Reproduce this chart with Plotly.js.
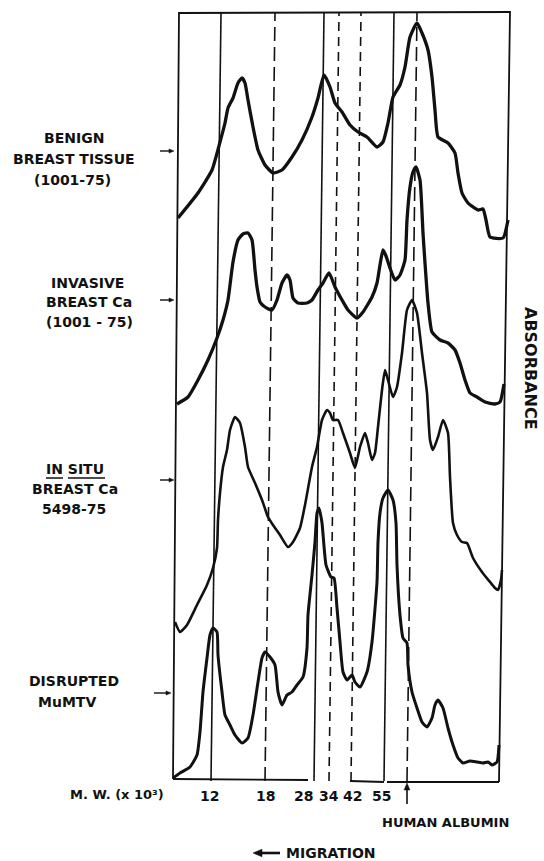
<!DOCTYPE html>
<html>
<head>
<meta charset="utf-8">
<script src="https://cdn.plot.ly/plotly-3.0.1.min.js"></script>
<style>html,body{margin:0;padding:0;background:#fff;}#chart{width:544px;height:861px;}</style>
</head>
<body>
<div id="chart"></div>
<script>
// ---- data (migration distance, absorbance display height) ----
const benignX = [5,25,39,47,52,55,60,65,69,72,75,80,85,92,100,109,119,129,139,145,151,157,162,169,177,185,194,204,210,215,220,227,232,237,244,249,255,259,262,265,275,282,285,289,295,305,310,313,317,330,335];
const benignY = [562,587,610,638,657,672,682,697,702,697,680,653,630,615,607,610,623,640,663,682,705,693,677,668,655,648,643,633,638,657,683,695,713,743,757,747,730,703,670,643,637,627,607,587,577,570,571,560,543,542,560];

const invasiveX = [4,15,25,35,44,50,55,60,65,70,75,79,82,84,87,92,99,104,109,114,117,120,125,134,139,145,150,156,162,169,175,184,190,199,204,207,210,213,217,222,227,232,234,237,240,243,247,250,252,255,259,267,275,282,287,292,297,304,312,322,327,331];
const invasiveY = [376,383,400,420,442,460,480,518,540,546,547,540,510,493,478,473,470,480,497,505,500,482,477,477,480,490,497,507,493,480,470,462,468,483,497,515,530,524,512,500,505,520,560,593,608,613,600,547,517,477,448,440,437,430,417,400,387,383,378,376,378,396];

const insituX = [2,7,14,24,34,40,44,45,47,50,54,57,62,67,72,75,82,89,95,100,107,115,120,127,132,139,144,149,154,157,160,165,170,177,182,187,192,195,199,202,205,209,212,215,220,224,229,234,239,244,249,254,257,260,265,270,275,277,280,284,289,294,300,309,317,322,325,328,329];
const insituY = [158,148,155,175,195,212,232,260,287,313,330,350,363,357,333,313,297,280,263,255,245,233,238,252,275,313,333,360,370,367,360,360,347,327,312,333,347,337,320,327,353,390,410,400,383,393,427,470,480,467,427,387,340,330,343,360,347,303,257,245,238,237,222,208,198,192,190,200,210];

const mumtvX = [0,7,17,24,27,30,34,37,40,44,45,49,52,57,62,69,75,80,85,89,92,97,102,105,109,114,119,124,130,134,135,139,142,144,146,149,153,158,161,164,167,170,174,179,182,187,194,199,204,205,207,210,215,220,223,224,227,230,234,235,239,244,249,254,259,262,265,270,275,280,285,290,297,304,310,315,319,324,326];
const mumtvY = [2,7,13,25,48,88,122,145,152,148,125,88,65,55,45,37,42,65,98,122,128,123,115,88,75,85,88,95,103,132,165,205,238,267,272,257,215,203,202,172,138,108,100,105,98,93,108,138,198,238,267,282,290,280,257,215,165,142,137,115,88,72,58,53,62,75,80,72,52,35,22,17,19,18,17,18,15,18,35];

const samples = [
  {name: 'BENIGN BREAST TISSUE (1001-75)', x: benignX, y: benignY},
  {name: 'INVASIVE BREAST Ca (1001-75)', x: invasiveX, y: invasiveY},
  {name: 'IN SITU BREAST Ca 5498-75', x: insituX, y: insituY},
  {name: 'DISRUPTED MuMTV', x: mumtvX, y: mumtvY}
];

const markerMW = ['12','18','28','34','42','55'];
const markerPos = [38, 92, 141, 156, 178, 211];
const albuminPos = 234;

// ---- styling ----
const INK = '#111';
const traceWidths = [3.3, 3.3, 2.6, 3.0];
const markerStyle = ['solid', '14px,6px', 'solid', '9px,6px', '9px,6px', 'solid'];
const labelNudge = [-2, 0, -11, 0, 1, -3];
const SKEW = 10;           // scan skew of the vertical lines (top shifted right)
const TOP = 767, BOT = -1;
const XR = [-5, 340], YR = [-10, 770];
const FAM = 'DejaVu Sans, Liberation Sans, sans-serif';
const FONT = {family: FAM, size: 14, color: INK, weight: 'bold'};

// convert axis units to paper fractions (items outside the axis range use paper refs)
const px = x => (x - XR[0]) / (XR[1] - XR[0]);
const py = y => (y - YR[0]) / (YR[1] - YR[0]);

const traces = samples.map((s, i) => ({
  type: 'scatter', mode: 'lines', x: s.x, y: s.y, name: s.name,
  line: {color: INK, width: traceWidths[i], shape: 'spline', smoothing: 0.5},
  hoverinfo: 'skip', showlegend: false
}));

const shapes = [];
shapes.push({type: 'path', xref: 'x', yref: 'y', path: 'M 0,1 L 6,767 L 337,768 L 326,-2',
  line: {color: INK, width: 1.8}});
[[0,135,1,0],[177,211,-1,-2],[214,326,-2,-2]].forEach(s => shapes.push({type:'line', xref:'x', yref:'y',
  x0: s[0], x1: s[1], y0: s[2], y1: s[3], line: {color: INK, width: 1.8}}));
markerPos.forEach((p, i) => shapes.push({type: 'line', xref: 'x', yref: 'y',
  x0: p, y0: BOT, x1: p + SKEW, y1: TOP, line: {color: INK, width: 1.6, dash: markerStyle[i]}}));
shapes.push({type: 'line', xref: 'x', yref: 'y', x0: albuminPos, y0: BOT, x1: albuminPos + SKEW, y1: TOP,
  line: {color: INK, width: 1.6, dash: '14px,6px'}});

// arrow as shapes: tip (x,y), direction (dx,dy), shaft length, head length, shaft width
function arrowShape(x, y, dx, dy, len, head, w) {
  const bx = x - head * dx, by = y - head * dy;
  const tx = x - len * dx, ty = y - len * dy;
  const nx = -dy * head * 0.42, ny = dx * head * 0.42;
  shapes.push({type: 'line', xref: 'paper', yref: 'paper', x0: px(tx), y0: py(ty), x1: px(bx), y1: py(by),
    line: {color: INK, width: w}});
  shapes.push({type: 'path', xref: 'paper', yref: 'paper',
    path: `M ${px(x)},${py(y)} L ${px(bx + nx)},${py(by + ny)} L ${px(bx - nx)},${py(by - ny)} Z`,
    fillcolor: INK, line: {color: INK, width: 0.5}});
}
arrowShape(1, 629, 1, 0, 14, 5, 1.4);
arrowShape(1, 480, 1, 0, 14, 5, 1.4);
arrowShape(1, 300, 1, 0, 14, 5, 1.4);
arrowShape(-2, 87, 1, 0, 17, 5, 1.4);
arrowShape(albuminPos, -3, 0, 1, 21, 7, 1.6);
arrowShape(80, -73, -1, 0, 27, 9, 2.6);
// underlines of "IN" and "SITU"
[[-127, -110], [-105, -68]].forEach(u => shapes.push({type: 'line', xref: 'paper', yref: 'paper',
  x0: px(u[0]), x1: px(u[1]), y0: py(302), y1: py(302), line: {color: INK, width: 1.5}}));

const ann = [];
function txt(t, x, y, opts) {
  ann.push(Object.assign({text: t, x: px(x), y: py(y), xref: 'paper', yref: 'paper', showarrow: false,
    font: FONT, xanchor: 'center', yanchor: 'middle'}, opts || {}));
}
txt('BENIGN', -99, 642); txt('BREAST TISSUE', -99, 621); txt('(1001-75)', -101, 600);
txt('INVASIVE', -86, 497); txt('BREAST Ca', -84, 478); txt('(1001 - 75)', -84, 458);
txt('IN SITU', -98, 311); txt('BREAST Ca', -98, 291); txt('5498-75', -99, 271);
txt('DISRUPTED', -99, 99); txt('MuMTV', -106, 78);
markerMW.forEach((m, i) => txt(m, markerPos[i] + labelNudge[i], -16));
txt('M. W. (x 10³)', -7, -14, {xanchor: 'right', font: Object.assign({}, FONT, {size: 13})});
txt('HUMAN ALBUMIN', 272, -42, {font: Object.assign({}, FONT, {size: 13})});
txt('MIGRATION', 111, -73, {xanchor: 'left'});
txt('ABSORBANCE', 358, 412, {textangle: 90, font: Object.assign({}, FONT, {size: 16})});

const layout = {
  width: 544, height: 861,
  margin: {l: 168, r: 31, t: 10, b: 71},
  paper_bgcolor: '#fff', plot_bgcolor: '#fff',
  xaxis: {range: XR, visible: false, fixedrange: true},
  yaxis: {range: YR, visible: false, fixedrange: true},
  shapes: shapes, annotations: ann, showlegend: false
};
Plotly.newPlot('chart', traces, layout, {displayModeBar: false, staticPlot: true});
</script>
</body>
</html>
